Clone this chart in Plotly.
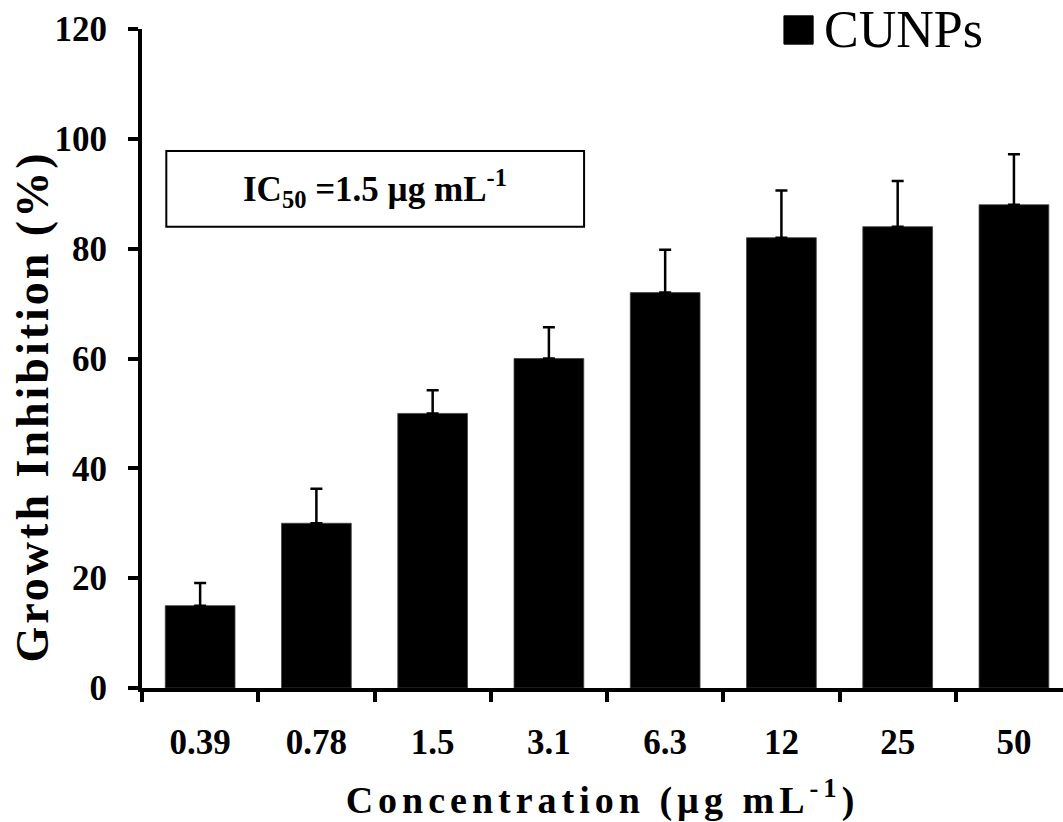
import plotly.graph_objects as go

# ---- data ----
categories = ["0.39", "0.78", "1.5", "3.1", "6.3", "12", "25", "50"]
inhibition = [15, 30, 50, 60, 72, 82, 84, 88]
error_plus = [4.1, 6.3, 4.2, 5.7, 7.8, 8.6, 8.3, 9.2]
error_minus = [0, 0, 0, 0, 0, 0, 0, 0]
y_ticks = [0, 20, 40, 60, 80, 100, 120]
series_name = "CUNPs"
x_title = "Concentration (µg mL<sup>-1</sup>)"
y_title = "Growth Inhibition (%)"
ic50_text = "IC<sub>50</sub> =1.5 µg mL<sup>-1</sup>"

FONT = "Liberation Serif, Times New Roman, serif"

fig = go.Figure()
fig.add_trace(go.Bar(
    x=categories, y=inhibition, width=0.6, name=series_name,
    marker=dict(color="black", line=dict(color="#444444", width=0.8)),
    error_y=dict(type="data", array=error_plus, arrayminus=error_minus,
                 symmetric=False, color="black", thickness=2.5, width=6),
    showlegend=False,
))

fig.update_layout(
    width=1063, height=822,
    margin=dict(l=142, r=0, t=29, b=134),
    plot_bgcolor="white", paper_bgcolor="white",
    font=dict(family=FONT, color="black"),
)

fig.update_xaxes(
    type="category", range=[-0.5, 7.422], tickson="boundaries",
    ticks="outside", ticklen=10, tickwidth=4, tickcolor="black",
    showline=True, linewidth=4, linecolor="black",
    showgrid=False, zeroline=False,
    tickfont=dict(size=35, family=FONT, weight="bold"), ticklabelstandoff=20,
    title=dict(text=x_title, font=dict(size=38, family=FONT, weight="bold"), standoff=26),
)
fig.update_yaxes(
    range=[0, 120], tickvals=y_ticks,
    ticks="outside", ticklen=10, tickwidth=4, tickcolor="black",
    showline=True, linewidth=4, linecolor="black",
    showgrid=False, zeroline=False,
    tickfont=dict(size=35, family=FONT, weight="bold"), ticklabelstandoff=14,
)

# y-axis title
fig.add_annotation(
    text=y_title, textangle=-90, xref="paper", yref="paper",
    x=-0.119, y=0.427, xanchor="center", yanchor="middle", showarrow=False,
    font=dict(size=46, family=FONT, weight="bold"),
)

# IC50 box
fig.add_shape(type="rect", xref="paper", yref="y", x0=0.0264, x1=0.480, y0=84.0, y1=97.8,
              line=dict(color="black", width=2), fillcolor="white", layer="above")
fig.add_annotation(
    text=ic50_text, xref="paper", yref="y", x=0.253, y=90.9,
    xanchor="center", yanchor="middle", showarrow=False,
    font=dict(size=35, family=FONT, weight="bold"),
)

# legend (manual, large)
fig.add_shape(type="rect", xref="paper", yref="paper", x0=0.697, x1=0.7287, y0=0.977, y1=1.020,
              line=dict(color="black", width=1), fillcolor="black")
fig.add_annotation(
    text=series_name, xref="paper", yref="paper", x=0.738, y=0.999,
    xanchor="left", yanchor="middle", showarrow=False,
    font=dict(size=52, family=FONT),
)

post = ("var s=document.createElement('style');"
        "s.textContent='body{margin:0} .xtitle{letter-spacing:5px}"
        " .annotation[data-index=\"0\"] text{letter-spacing:3px}';"
        "document.head.appendChild(s);")

fig.write_html("out.html", post_script=post, config={"displayModeBar": False})
